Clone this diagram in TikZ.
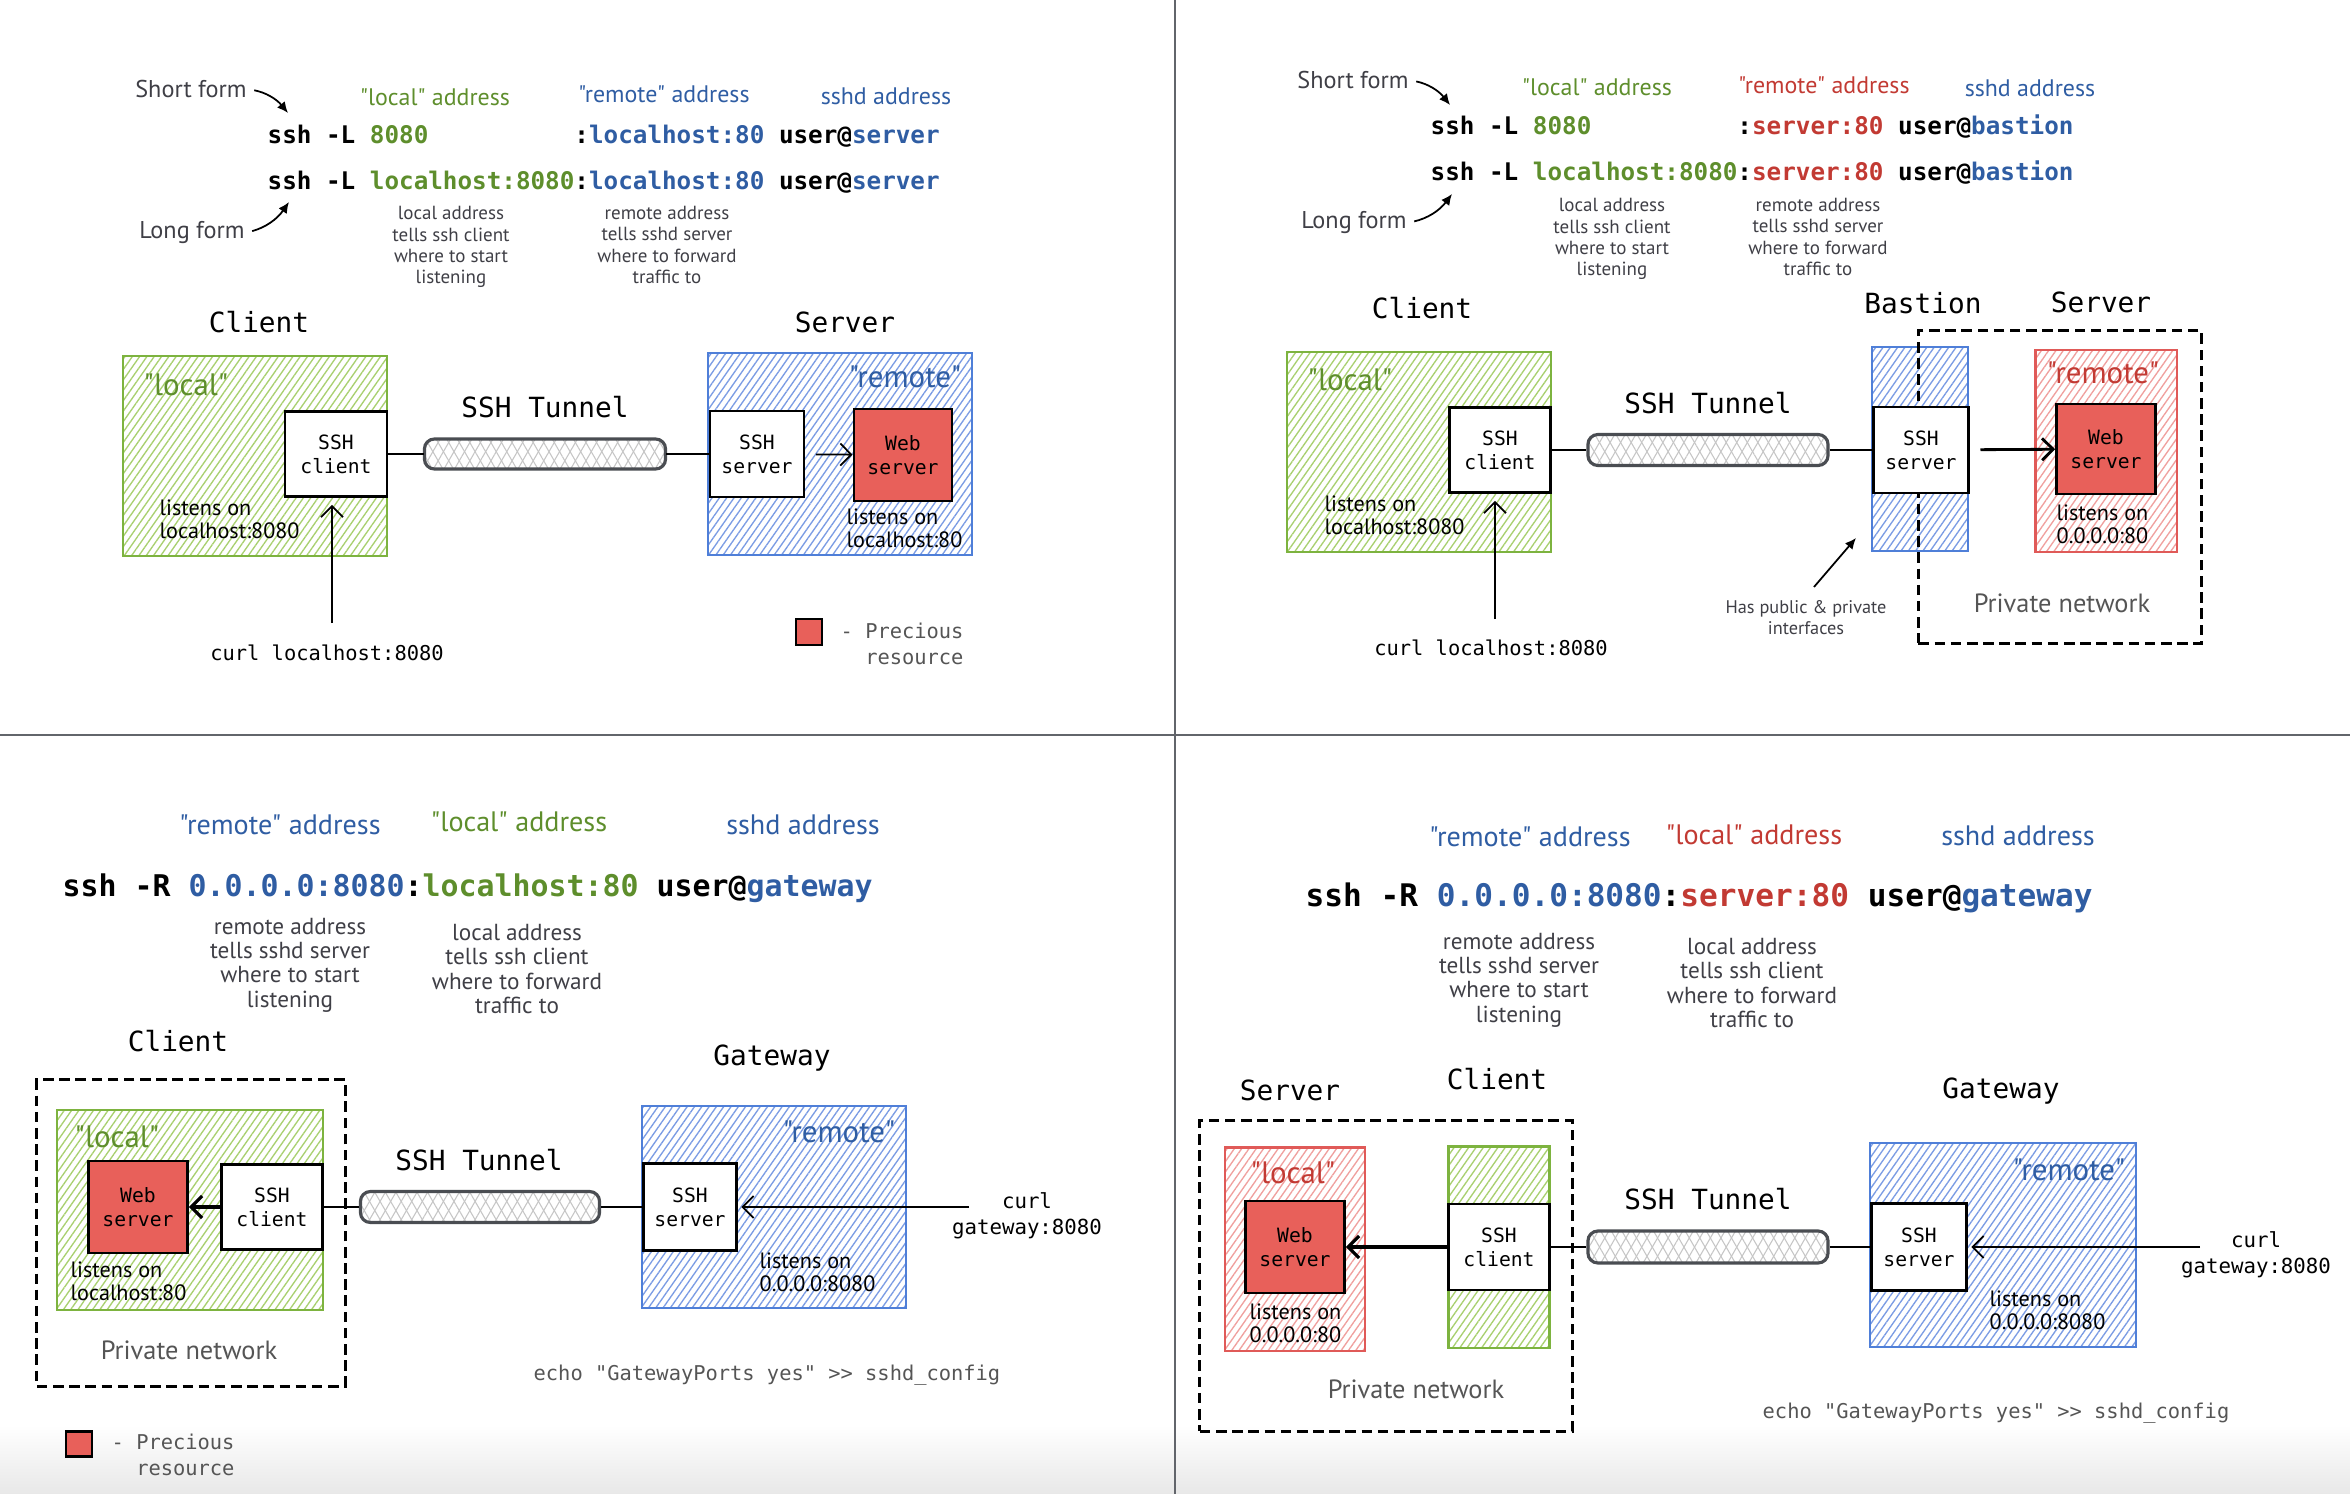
\documentclass[tikz,border=0pt]{standalone}
\usepackage{fontspec}
\setmonofont{DejaVu Sans Mono}
\newfontfamily\hand{PT Sans}
\usepackage{tikz}
\usetikzlibrary{positioning,arrows.meta,patterns.meta}

\definecolor{grntxt}{HTML}{5E8E2C}
\definecolor{blutxt}{HTML}{2F5DA3}
\definecolor{redtxt}{HTML}{C23A33}
\definecolor{grnline}{HTML}{7DB33F}
\definecolor{grnhatch}{HTML}{A9D070}
\definecolor{bluline}{HTML}{4F7FD8}
\definecolor{bluhatch}{HTML}{7B9CE4}
\definecolor{redline}{HTML}{E05A58}
\definecolor{redhatch}{HTML}{F0A09E}
\definecolor{webred}{HTML}{E8605A}
\definecolor{notegray}{HTML}{3F3F46}
\definecolor{leggray}{HTML}{555555}
\definecolor{divgray}{HTML}{62656B}
\definecolor{tungray}{HTML}{4A4D52}

\begin{document}
\begin{tikzpicture}[x=0.01cm,y=-0.01cm,
    cmd/.style={anchor=west,inner sep=0,font=\ttfamily\bfseries\fontsize{6.9}{8}\selectfont},
    heading/.style={inner sep=0,font=\ttfamily\fontsize{7.9}{9}\selectfont},
    mono/.style={inner sep=0,font=\ttfamily\fontsize{5.8}{7.4}\selectfont},
    box/.style={draw,line width=0.8pt,fill=white,align=center,inner sep=0,font=\ttfamily\fontsize{5.6}{6.8}\selectfont},
    webbox/.style={box,fill=webred},
    greenzone/.style={draw=grnline,line width=0.6pt,preaction={fill=white},pattern={Lines[angle=55,distance=1.7pt,line width=0.38pt]},pattern color=grnhatch},
    bluezone/.style={draw=bluline,line width=0.6pt,preaction={fill=white},pattern={Lines[angle=55,distance=1.7pt,line width=0.38pt]},pattern color=bluhatch},
    redzone/.style={draw=redline,line width=0.6pt,preaction={fill=white},pattern={Lines[angle=55,distance=1.7pt,line width=0.38pt]},pattern color=redhatch},
    netbox/.style={draw,line width=0.9pt,dash pattern=on 3pt off 1.6pt},
    tunnel/.style={draw=tungray,line width=0.9pt,rounded corners=0.1cm,preaction={fill=white},
        preaction={pattern={Lines[angle=60,distance=2.6pt,line width=0.3pt]},pattern color=gray!45},
        pattern={Lines[angle=-60,distance=2.6pt,line width=0.3pt]},pattern color=gray!45},
    link/.style={line width=0.7pt},
    arr/.style={line width=0.5pt,-{Straight Barb[length=1.1mm,width=2.2mm]}},
    hintarr/.style={line width=0.5pt,-{Latex[length=1.1mm,width=1mm]}},
    tag/.style={inner sep=0,font=\hand\fontsize{6.8}{8}\selectfont},
    tagbig/.style={inner sep=0,font=\hand\fontsize{8}{9}\selectfont},
    hint/.style={inner sep=0,text=notegray,font=\hand\fontsize{6.9}{8}\selectfont},
    note/.style={inner sep=0,align=center,text=notegray,font=\hand\fontsize{5.4}{6}\selectfont},
    notebig/.style={note,font=\hand\fontsize{6.6}{6.9}\selectfont},
    quote/.style={inner sep=0,font=\hand\fontsize{8.8}{10}\selectfont},
    listen/.style={anchor=west,inner sep=0,align=left,font=\hand\fontsize{6.3}{6.6}\selectfont},
    private/.style={inner sep=0,text=leggray,font=\hand\fontsize{7.5}{9}\selectfont}]

    \useasboundingbox (0,0) rectangle (2350,1494);
    \shade[top color=white,bottom color=black!9] (0,1425) rectangle (2350,1494);
    \draw[divgray,line width=0.45pt] (1175,0) -- (1175,1494);
    \draw[divgray,line width=0.45pt] (0,735) -- (2350,735);

    % top left: ssh -L
    \node[hint] (q1sf) at (191,89) {Short form};
    \node[hint] (q1lf) at (192,233) {Long form};
    \coordinate (q1sfend) at (288,113);
    \coordinate (q1lfend) at (289,202);
    \draw[hintarr,shorten <=2pt] (q1sf.east) to[bend left=20] (q1sfend);
    \draw[hintarr,shorten <=2pt] (q1lf.east) to[bend right=20] (q1lfend);
    \node[tag,text=grntxt] (q1tag1) at (435,97) {"local" address};
    \node[tag,text=blutxt] (q1tag2) at (664,94) {"remote" address};
    \node[tag,text=blutxt] (q1tag3) at (886,96) {sshd address};
    \node[cmd] (q1cmda) at (267,136) {ssh -L \textcolor{grntxt}{8080}\phantom{localhost:}:\textcolor{blutxt}{localhost:80} user@\textcolor{blutxt}{server}};
    \node[cmd] (q1cmdb) at (267,182) {ssh -L \textcolor{grntxt}{localhost:8080}:\textcolor{blutxt}{localhost:80} user@\textcolor{blutxt}{server}};
    \node[note] (q1note1) at (451,247) {local address\\tells ssh client\\where to start\\listening};
    \node[note] (q1note2) at (667,245) {remote address\\tells sshd server\\where to forward\\traffic to};

    \node[heading] (q1hdcli) at (259,322) {Client};
    \node[heading] (q1hdsrv) at (845,322) {Server};
    \node[heading] (q1hdtun) at (545,407) {SSH Tunnel};
    \node[greenzone,minimum width=2.64cm,minimum height=2.0cm] (q1cli) at (255,456) {};
    \node[bluezone,minimum width=2.63cm,minimum height=2.02cm] (q1srv) at (840,454) {};
    \node[quote,text=grntxt] (q1loc) at (186,385) {"local"};
    \node[quote,text=blutxt] (q1rem) at (905,377) {"remote"};
    \node[box,minimum width=1.02cm,minimum height=0.85cm] (q1sshc) at (336,454) {SSH\\client};
    \node[tunnel,minimum width=2.41cm,minimum height=0.30cm] (q1tun) at (545,454) {};
    \node[box,minimum width=0.94cm,minimum height=0.86cm] (q1sshs) at (757,454) {SSH\\server};
    \node[webbox,minimum width=0.98cm,minimum height=0.92cm] (q1web) at (903,455) {Web\\server};
    \draw[link] (q1sshc) -- (q1tun);
    \draw[link] (q1tun) -- (q1sshs);
    \draw[arr,shorten <=3pt] (q1sshs) -- (q1web);
    \node[listen] (q1lsna) at (159,519) {listens on\\localhost:8080};
    \node[listen] (q1lsnb) at (846,528) {listens on\\localhost:80};
    \node[mono] (q1curl) at (327,653) {curl localhost:8080};
    \coordinate (q1curlpt) at (332,623);
    \draw[arr,shorten >=2pt] (q1curlpt) -- (q1curlpt |- q1sshc.south);
    \node[webbox,minimum width=0.26cm,minimum height=0.26cm,line width=0.7pt] (q1leg) at (809,632) {};
    \node[mono,text=leggray,anchor=west,align=left] (q1legtxt) at (840,644) {- Precious\\\phantom{- }resource};

    % top right: ssh -L through a bastion
    \node[hint] (q2sf) at (1353,80) {Short form};
    \node[hint] (q2lf) at (1354,223) {Long form};
    \coordinate (q2sfend) at (1450,105);
    \coordinate (q2lfend) at (1452,194);
    \draw[hintarr,shorten <=2pt] (q2sf.east) to[bend left=20] (q2sfend);
    \draw[hintarr,shorten <=2pt] (q2lf.east) to[bend right=20] (q2lfend);
    \node[tag,text=grntxt] (q2tag1) at (1597,87) {"local" address};
    \node[tag,text=redtxt] (q2tag2) at (1824,85) {"remote" address};
    \node[tag,text=blutxt] (q2tag3) at (2030,88) {sshd address};
    \node[cmd] (q2cmda) at (1430,127) {ssh -L \textcolor{grntxt}{8080}\phantom{localhost:}:\textcolor{redtxt}{server:80} user@\textcolor{blutxt}{bastion}};
    \node[cmd] (q2cmdb) at (1430,173) {ssh -L \textcolor{grntxt}{localhost:8080}:\textcolor{redtxt}{server:80} user@\textcolor{blutxt}{bastion}};
    \node[note] (q2note1) at (1612,239) {local address\\tells ssh client\\where to start\\listening};
    \node[note] (q2note2) at (1818,237) {remote address\\tells sshd server\\where to forward\\traffic to};

    \node[heading] (q2hdcli) at (1422,308) {Client};
    \node[heading] (q2hdbas) at (1923,303) {Bastion};
    \node[heading] (q2hdsrv) at (2101,302) {Server};
    \node[heading] (q2hdtun) at (1708,403) {SSH Tunnel};
    \node[greenzone,minimum width=2.64cm,minimum height=2.0cm] (q2cli) at (1419,452) {};
    \node[bluezone,minimum width=0.96cm,minimum height=2.03cm] (q2bas) at (1920,449) {};
    \node[redzone,minimum width=1.41cm,minimum height=2.02cm] (q2srv) at (2106,451) {};
    \node[netbox,minimum width=2.83cm,minimum height=3.12cm] (q2net) at (2060,487) {};
    \node[quote,text=grntxt] (q2loc) at (1350,380) {"local"};
    \node[quote,text=redtxt] (q2rem) at (2103,373) {"remote"};
    \node[box,minimum width=1.01cm,minimum height=0.85cm] (q2sshc) at (1500,450) {SSH\\client};
    \node[tunnel,minimum width=2.40cm,minimum height=0.31cm] (q2tun) at (1708,450) {};
    \node[box,minimum width=0.95cm,minimum height=0.86cm] (q2sshs) at (1921,450) {SSH\\server};
    \node[webbox,minimum width=0.99cm,minimum height=0.90cm] (q2web) at (2106,449) {Web\\server};
    \draw[link] (q2sshc) -- (q2tun);
    \draw[link] (q2tun) -- (q2sshs);
    \draw[arr,line width=0.8pt,shorten <=3pt] (q2sshs) -- (q2web);
    \node[listen] (q2lsna) at (1324,515) {listens on\\localhost:8080};
    \node[listen] (q2lsnb) at (2056,524) {listens on\\0.0.0.0:80};
    \node[private] (q2priv) at (2062,603) {Private network};
    \node[note,font=\hand\fontsize{5.2}{6}\selectfont] (q2pub) at (1806,618) {Has public \& private\\interfaces};
    \coordinate (q2pubfrom) at (1814,587);
    \coordinate (q2pubto) at (1856,538);
    \draw[hintarr] (q2pubfrom) -- (q2pubto);
    \node[mono] (q2curl) at (1491,648) {curl localhost:8080};
    \coordinate (q2curlpt) at (1495,619);
    \draw[arr,shorten >=2pt] (q2curlpt) -- (q2curlpt |- q2sshc.south);

    % bottom left: ssh -R
    \node[tagbig,text=blutxt] (q3tag1) at (280,825) {"remote" address};
    \node[tagbig,text=grntxt] (q3tag2) at (519,822) {"local" address};
    \node[tagbig,text=blutxt] (q3tag3) at (803,825) {sshd address};
    \node[cmd,font=\ttfamily\bfseries\fontsize{8.5}{10}\selectfont] (q3cmd) at (62,888) {ssh -R \textcolor{blutxt}{0.0.0.0:8080}:\textcolor{grntxt}{localhost:80} user@\textcolor{blutxt}{gateway}};
    \node[notebig] (q3note1) at (290,965) {remote address\\tells sshd server\\where to start\\listening};
    \node[notebig] (q3note2) at (517,969) {local address\\tells ssh client\\where to forward\\traffic to};

    \node[heading] (q3hdcli) at (178,1041) {Client};
    \node[heading] (q3hdgw) at (772,1058) {Gateway};
    \node[heading] (q3hdtun) at (479,1160) {SSH Tunnel};
    \node[netbox,minimum width=3.08cm,minimum height=3.06cm] (q3net) at (191,1233) {};
    \node[greenzone,minimum width=2.65cm,minimum height=2.0cm] (q3cli) at (190,1210) {};
    \node[bluezone,minimum width=2.64cm,minimum height=2.02cm] (q3gw) at (774,1207) {};
    \node[quote,text=grntxt] (q3loc) at (117,1137) {"local"};
    \node[quote,text=blutxt] (q3rem) at (839,1132) {"remote"};
    \node[webbox,minimum width=0.99cm,minimum height=0.92cm] (q3web) at (138,1207) {Web\\server};
    \node[box,minimum width=1.01cm,minimum height=0.85cm] (q3sshc) at (272,1207) {SSH\\client};
    \node[tunnel,minimum width=2.39cm,minimum height=0.31cm] (q3tun) at (480,1207) {};
    \node[box,minimum width=0.93cm,minimum height=0.87cm] (q3sshs) at (690,1207) {SSH\\server};
    \draw[link] (q3sshc) -- (q3tun);
    \draw[link] (q3tun) -- (q3sshs);
    \draw[arr,line width=0.9pt] (q3sshc) -- (q3web);
    \node[listen] (q3lsna) at (70,1281) {listens on\\localhost:80};
    \node[listen] (q3lsnb) at (759,1272) {listens on\\0.0.0.0:8080};
    \node[private] (q3priv) at (189,1350) {Private network};
    \node[mono,align=center,font=\ttfamily\fontsize{5.9}{7.4}\selectfont] (q3curl) at (1027,1216) {curl\\gateway:8080};
    \coordinate (q3curlpt) at (969,1207);
    \draw[arr,shorten >=1pt] (q3curlpt) -- (q3sshs);
    \node[mono,text=leggray] (q3echo) at (767,1375) {echo "GatewayPorts yes" >> sshd\_config};
    \node[webbox,minimum width=0.26cm,minimum height=0.25cm,line width=0.7pt] (q3leg) at (79,1444) {};
    \node[mono,text=leggray,anchor=west,align=left] (q3legtxt) at (111,1455) {- Precious\\\phantom{- }resource};

    % bottom right: ssh -R to a server in the private network
    \node[tagbig,text=blutxt] (q4tag1) at (1530,837) {"remote" address};
    \node[tagbig,text=redtxt] (q4tag2) at (1754,835) {"local" address};
    \node[tagbig,text=blutxt] (q4tag3) at (2018,836) {sshd address};
    \node[cmd,font=\ttfamily\bfseries\fontsize{8.85}{10}\selectfont] (q4cmd) at (1305,898) {ssh -R \textcolor{blutxt}{0.0.0.0:8080}:\textcolor{redtxt}{server:80} user@\textcolor{blutxt}{gateway}};
    \node[notebig] (q4note1) at (1519,980) {remote address\\tells sshd server\\where to start\\listening};
    \node[notebig] (q4note2) at (1752,983) {local address\\tells ssh client\\where to forward\\traffic to};

    \node[heading] (q4hdsrv) at (1290,1090) {Server};
    \node[heading] (q4hdcli) at (1497,1079) {Client};
    \node[heading] (q4hdgw) at (2001,1091) {Gateway};
    \node[heading] (q4hdtun) at (1708,1199) {SSH Tunnel};
    \node[netbox,minimum width=3.72cm,minimum height=3.10cm] (q4net) at (1386,1276) {};
    \node[redzone,minimum width=1.40cm,minimum height=2.03cm] (q4srv) at (1295,1249) {};
    \node[greenzone,minimum width=1.01cm,minimum height=2.01cm] (q4cli) at (1499,1247) {};
    \node[bluezone,minimum width=2.65cm,minimum height=2.04cm] (q4gw) at (2003,1245) {};
    \node[quote,text=redtxt] (q4loc) at (1293,1173) {"local"};
    \node[quote,text=blutxt] (q4rem) at (2069,1170) {"remote"};
    \node[webbox,minimum width=0.99cm,minimum height=0.92cm] (q4web) at (1295,1247) {Web\\server};
    \node[box,minimum width=1.01cm,minimum height=0.86cm] (q4sshc) at (1499,1247) {SSH\\client};
    \node[tunnel,minimum width=2.40cm,minimum height=0.32cm] (q4tun) at (1708,1247) {};
    \node[box,minimum width=0.95cm,minimum height=0.87cm] (q4sshs) at (1919,1247) {SSH\\server};
    \draw[link] (q4sshc) -- (q4tun);
    \draw[link] (q4tun) -- (q4sshs);
    \draw[arr,line width=0.9pt] (q4sshc) -- (q4web);
    \node[listen] (q4lsna) at (1249,1323) {listens on\\0.0.0.0:80};
    \node[listen] (q4lsnb) at (1989,1310) {listens on\\0.0.0.0:8080};
    \node[private] (q4priv) at (1416,1389) {Private network};
    \node[mono,align=center,font=\ttfamily\fontsize{5.9}{7.4}\selectfont] (q4curl) at (2256,1255) {curl\\gateway:8080};
    \coordinate (q4curlpt) at (2200,1247);
    \draw[arr,shorten >=1pt] (q4curlpt) -- (q4sshs);
    \node[mono,text=leggray] (q4echo) at (1996,1413) {echo "GatewayPorts yes" >> sshd\_config};
\end{tikzpicture}
\end{document}
